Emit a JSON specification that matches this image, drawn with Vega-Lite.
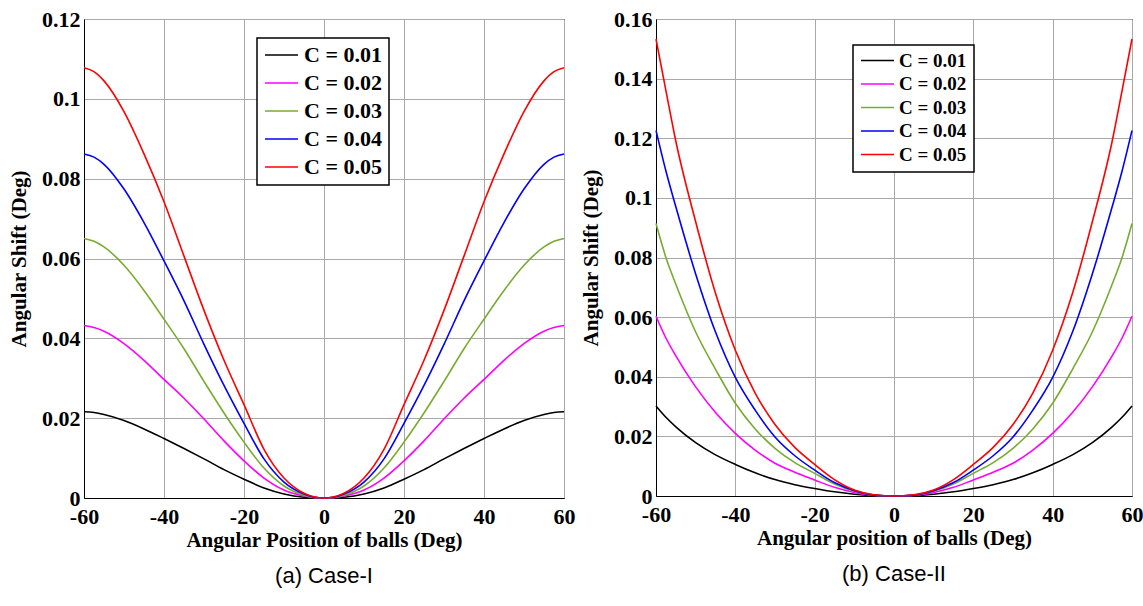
{
  "$schema": "https://vega.github.io/schema/vega-lite/v6.json",
  "padding": {"left": 8, "top": 7, "right": 5, "bottom": 0},
  "spacing": 4,
  "background": "white",
  "datasets": {
    "caseI": [
      {"theta": -60, "c1": 0.0216, "c2": 0.0432, "c3": 0.065, "c4": 0.0862, "c5": 0.1078},
      {"theta": -57.5, "c1": 0.0214, "c2": 0.0427, "c3": 0.0643, "c4": 0.0854, "c5": 0.1068},
      {"theta": -55, "c1": 0.0209, "c2": 0.0418, "c3": 0.0629, "c4": 0.0836, "c5": 0.1045},
      {"theta": -50, "c1": 0.0194, "c2": 0.0387, "c3": 0.0583, "c4": 0.0774, "c5": 0.0968},
      {"theta": -45, "c1": 0.0173, "c2": 0.0345, "c3": 0.052, "c4": 0.069, "c5": 0.0862},
      {"theta": -40, "c1": 0.0149, "c2": 0.0297, "c3": 0.0448, "c4": 0.0594, "c5": 0.0742},
      {"theta": -35, "c1": 0.0124, "c2": 0.0250, "c3": 0.0374, "c4": 0.0494, "c5": 0.0606},
      {"theta": -30, "c1": 0.0098, "c2": 0.0198, "c3": 0.0292, "c4": 0.0385, "c5": 0.047},
      {"theta": -25, "c1": 0.0071, "c2": 0.0143, "c3": 0.0213, "c4": 0.0282, "c5": 0.0345},
      {"theta": -20, "c1": 0.0047, "c2": 0.0093, "c3": 0.014, "c4": 0.0187, "c5": 0.0234},
      {"theta": -15, "c1": 0.0025, "c2": 0.005, "c3": 0.0075, "c4": 0.0098, "c5": 0.0122},
      {"theta": -10, "c1": 0.001, "c2": 0.002, "c3": 0.003, "c4": 0.004, "c5": 0.005},
      {"theta": -5, "c1": 0.0002, "c2": 0.0005, "c3": 0.0007, "c4": 0.001, "c5": 0.0012},
      {"theta": -2.5, "c1": 0.00005, "c2": 0.0001, "c3": 0.00015, "c4": 0.0002, "c5": 0.0003},
      {"theta": 0, "c1": 0, "c2": 0, "c3": 0, "c4": 0, "c5": 0},
      {"theta": 2.5, "c1": 0.00005, "c2": 0.0001, "c3": 0.00015, "c4": 0.0002, "c5": 0.0003},
      {"theta": 5, "c1": 0.0002, "c2": 0.0005, "c3": 0.0007, "c4": 0.001, "c5": 0.0012},
      {"theta": 10, "c1": 0.001, "c2": 0.002, "c3": 0.003, "c4": 0.004, "c5": 0.005},
      {"theta": 15, "c1": 0.0025, "c2": 0.005, "c3": 0.0075, "c4": 0.0098, "c5": 0.0122},
      {"theta": 20, "c1": 0.0047, "c2": 0.0093, "c3": 0.014, "c4": 0.0187, "c5": 0.0234},
      {"theta": 25, "c1": 0.0071, "c2": 0.0143, "c3": 0.0213, "c4": 0.0282, "c5": 0.0345},
      {"theta": 30, "c1": 0.0098, "c2": 0.0198, "c3": 0.0292, "c4": 0.0385, "c5": 0.047},
      {"theta": 35, "c1": 0.0124, "c2": 0.0250, "c3": 0.0374, "c4": 0.0494, "c5": 0.0606},
      {"theta": 40, "c1": 0.0149, "c2": 0.0297, "c3": 0.0448, "c4": 0.0594, "c5": 0.0742},
      {"theta": 45, "c1": 0.0173, "c2": 0.0345, "c3": 0.052, "c4": 0.069, "c5": 0.0862},
      {"theta": 50, "c1": 0.0194, "c2": 0.0387, "c3": 0.0583, "c4": 0.0774, "c5": 0.0968},
      {"theta": 55, "c1": 0.0209, "c2": 0.0418, "c3": 0.0629, "c4": 0.0836, "c5": 0.1045},
      {"theta": 57.5, "c1": 0.0214, "c2": 0.0427, "c3": 0.0643, "c4": 0.0854, "c5": 0.1068},
      {"theta": 60, "c1": 0.0216, "c2": 0.0432, "c3": 0.065, "c4": 0.0862, "c5": 0.1078}
    ],
    "caseII": [
      {"theta": -60, "c1": 0.0302, "c2": 0.0603, "c3": 0.0914, "c4": 0.1226, "c5": 0.1533},
      {"theta": -57.5, "c1": 0.0264, "c2": 0.053, "c3": 0.08, "c4": 0.109, "c5": 0.136},
      {"theta": -55, "c1": 0.0232, "c2": 0.047, "c3": 0.071, "c4": 0.097, "c5": 0.119},
      {"theta": -50, "c1": 0.0179, "c2": 0.0366, "c3": 0.055, "c4": 0.0745, "c5": 0.092},
      {"theta": -45, "c1": 0.0138, "c2": 0.028, "c3": 0.0425, "c4": 0.055, "c5": 0.068},
      {"theta": -40, "c1": 0.0106, "c2": 0.021, "c3": 0.0311, "c4": 0.0398, "c5": 0.0489},
      {"theta": -35, "c1": 0.0078, "c2": 0.0154, "c3": 0.0225, "c4": 0.0288, "c5": 0.0345},
      {"theta": -30, "c1": 0.0055, "c2": 0.011, "c3": 0.016, "c4": 0.0198, "c5": 0.024},
      {"theta": -25, "c1": 0.0038, "c2": 0.008, "c3": 0.0112, "c4": 0.0135, "c5": 0.0163},
      {"theta": -20, "c1": 0.0025, "c2": 0.0054, "c3": 0.0076, "c4": 0.0087, "c5": 0.0106},
      {"theta": -15, "c1": 0.0014, "c2": 0.0029, "c3": 0.004, "c4": 0.0045, "c5": 0.0055},
      {"theta": -10, "c1": 0.0006, "c2": 0.0012, "c3": 0.0016, "c4": 0.0018, "c5": 0.002},
      {"theta": -5, "c1": 0.0001, "c2": 0.0002, "c3": 0.0003, "c4": 0.0003, "c5": 0.0004},
      {"theta": 0, "c1": 0, "c2": 0, "c3": 0, "c4": 0, "c5": 0},
      {"theta": 5, "c1": 0.0001, "c2": 0.0002, "c3": 0.0003, "c4": 0.0003, "c5": 0.0004},
      {"theta": 10, "c1": 0.0006, "c2": 0.0012, "c3": 0.0016, "c4": 0.0018, "c5": 0.002},
      {"theta": 15, "c1": 0.0014, "c2": 0.0029, "c3": 0.004, "c4": 0.0045, "c5": 0.0055},
      {"theta": 20, "c1": 0.0025, "c2": 0.0054, "c3": 0.0076, "c4": 0.0087, "c5": 0.0106},
      {"theta": 25, "c1": 0.0038, "c2": 0.008, "c3": 0.0112, "c4": 0.0135, "c5": 0.0163},
      {"theta": 30, "c1": 0.0055, "c2": 0.011, "c3": 0.016, "c4": 0.0198, "c5": 0.024},
      {"theta": 35, "c1": 0.0078, "c2": 0.0154, "c3": 0.0225, "c4": 0.0288, "c5": 0.0345},
      {"theta": 40, "c1": 0.0106, "c2": 0.021, "c3": 0.0311, "c4": 0.0398, "c5": 0.0489},
      {"theta": 45, "c1": 0.0138, "c2": 0.028, "c3": 0.0425, "c4": 0.055, "c5": 0.068},
      {"theta": 50, "c1": 0.0179, "c2": 0.0366, "c3": 0.055, "c4": 0.0745, "c5": 0.092},
      {"theta": 55, "c1": 0.0232, "c2": 0.047, "c3": 0.071, "c4": 0.097, "c5": 0.119},
      {"theta": 57.5, "c1": 0.0264, "c2": 0.053, "c3": 0.08, "c4": 0.109, "c5": 0.136},
      {"theta": 60, "c1": 0.0302, "c2": 0.0603, "c3": 0.0914, "c4": 0.1226, "c5": 0.1533}
    ]
  },
  "hconcat": [
    {
      "width": 480,
      "height": 479,
      "data": {"name": "caseI"},
      "transform": [{"fold": ["c1", "c2", "c3", "c4", "c5"], "as": ["series", "shift"]}],
      "title": {"text": "(a) Case-I", "orient": "bottom", "anchor": "middle", "font": "Liberation Sans", "fontSize": 22, "fontWeight": "normal", "color": "black", "offset": 16},
      "mark": {"type": "line", "interpolate": "monotone", "strokeWidth": 1.6},
      "encoding": {
        "x": {"field": "theta", "type": "quantitative", "scale": {"domain": [-60, 60], "nice": false},
              "axis": {"title": "Angular Position of balls (Deg)", "values": [-60, -40, -20, 0, 20, 40, 60], "labelExpr": "datum.value + ''"}},
        "y": {"field": "shift", "type": "quantitative", "scale": {"domain": [0, 0.12], "nice": false},
              "axis": {"title": "Angular Shift (Deg)", "values": [0, 0.02, 0.04, 0.06, 0.08, 0.1, 0.12], "labelExpr": "datum.value + ''"}},
        "color": {"field": "series", "type": "nominal",
                  "scale": {"domain": ["c1", "c2", "c3", "c4", "c5"], "range": ["#000000", "#ff00ff", "#77ac30", "#0000ff", "#ff0000"]},
                  "legend": {"orient": "none", "legendX": 173, "legendY": 19, "title": null, "labelExpr": "'C = 0.0' + substring(datum.label, 1)",
                             "labelFontSize": 22, "padding": 7, "clipHeight": 20, "rowPadding": 6, "symbolSize": 1089, "labelOffset": 5}},
        "order": {"field": "theta", "type": "quantitative"}
      }
    },
    {
      "width": 476,
      "height": 477,
      "data": {"name": "caseII"},
      "transform": [{"fold": ["c1", "c2", "c3", "c4", "c5"], "as": ["series", "shift"]}],
      "title": {"text": "(b) Case-II", "orient": "bottom", "anchor": "middle", "font": "Liberation Sans", "fontSize": 22, "fontWeight": "normal", "color": "black", "offset": 16},
      "mark": {"type": "line", "interpolate": "monotone", "strokeWidth": 1.6},
      "encoding": {
        "x": {"field": "theta", "type": "quantitative", "scale": {"domain": [-60, 60], "nice": false},
              "axis": {"title": "Angular position of balls (Deg)", "values": [-60, -40, -20, 0, 20, 40, 60], "labelExpr": "datum.value + ''"}},
        "y": {"field": "shift", "type": "quantitative", "scale": {"domain": [0, 0.16], "nice": false},
              "axis": {"title": "Angular Shift (Deg)", "values": [0, 0.02, 0.04, 0.06, 0.08, 0.1, 0.12, 0.14, 0.16], "labelExpr": "datum.value + ''"}},
        "color": {"field": "series", "type": "nominal",
                  "scale": {"domain": ["c1", "c2", "c3", "c4", "c5"], "range": ["#000000", "#ff00ff", "#77ac30", "#0000ff", "#ff0000"]},
                  "legend": {"orient": "none", "legendX": 197, "legendY": 26, "title": null, "labelExpr": "'C = 0.0' + substring(datum.label, 1)",
                             "labelFontSize": 19, "padding": 7, "clipHeight": 17, "rowPadding": 3.5, "symbolSize": 1089, "labelOffset": 4}},
        "order": {"field": "theta", "type": "quantitative"}
      }
    }
  ],
  "resolve": {"scale": {"color": "independent"}, "legend": {"color": "independent"}},
  "config": {
    "view": {"stroke": "black", "strokeWidth": 1},
    "axis": {
      "labelFont": "Liberation Serif", "labelFontWeight": "bold", "labelFontSize": 22, "labelColor": "black",
      "titleFont": "Liberation Serif", "titleFontWeight": "bold", "titleFontSize": 21, "titleColor": "black",
      "domainColor": "black", "domainWidth": 1, "gridColor": "#a8a8a8", "gridWidth": 1, "gridOpacity": 1,
      "ticks": false, "labelPadding": 4, "titlePadding": 6, "labelFlush": false, "labelOverlap": false
    },
    "axisX": {"labelPadding": 8, "titlePadding": 2},
    "axisY": {"titlePadding": 12},
    "legend": {
      "strokeColor": "black", "strokeWidth": 1.5, "fillColor": "white", "symbolType": "stroke", "symbolStrokeWidth": 1.6,
      "labelFont": "Liberation Serif", "labelFontWeight": "bold", "labelColor": "black", "labelLimit": 300
    }
  }
}
